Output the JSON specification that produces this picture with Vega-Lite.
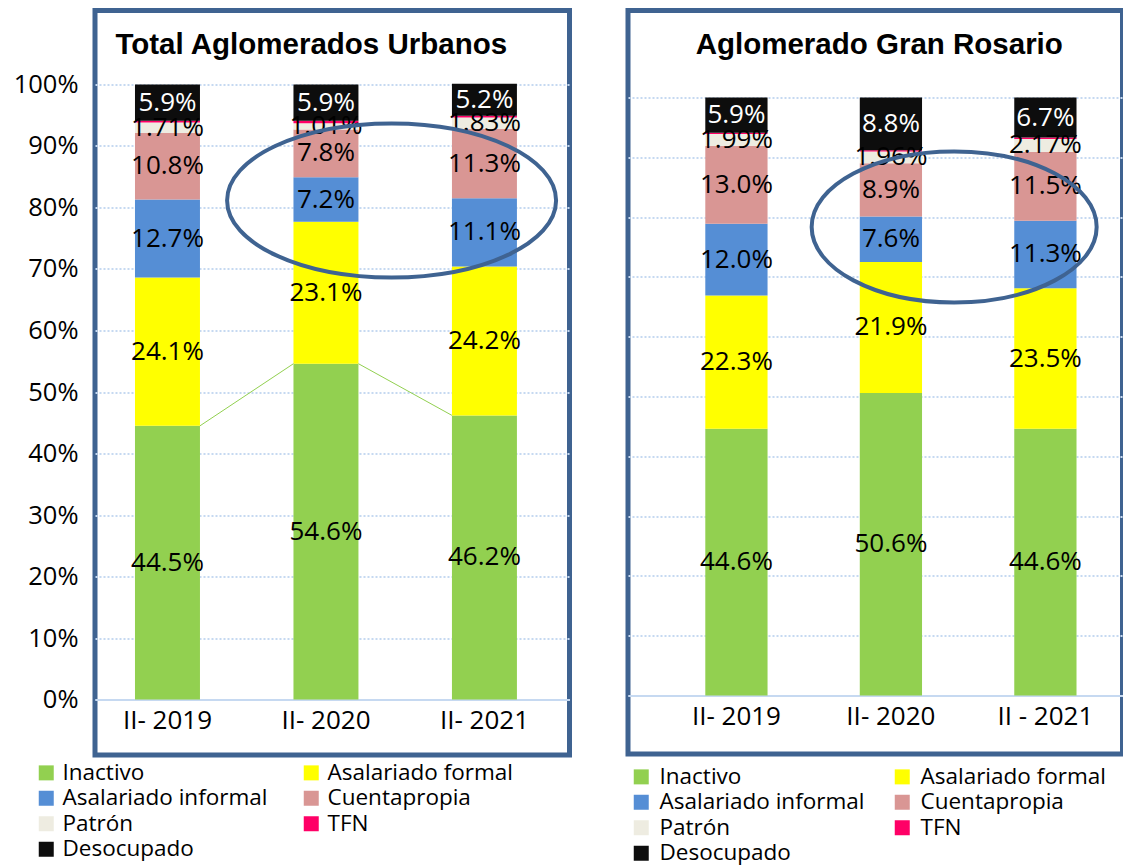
{
  "$schema": "https://vega.github.io/schema/vega-lite/v6.json",
  "padding": {"left": 10, "top": 7.5, "right": 0, "bottom": 0},
  "spacing": 53,
  "config": {
    "view": {"stroke": "#3F6391", "strokeWidth": 5},
    "font": "Open Sans",
    "axis": {"gridColor": "#C6D9F1", "gridDash": [2, 2], "gridWidth": 2, "labelColor": "#000000"}
  },
  "datasets": {
    "urbanos": [
      {"period": "II- 2019", "cat": "Inactivo", "k": 1, "value": 0.445},
      {"period": "II- 2019", "cat": "Asalariado formal", "k": 2, "value": 0.241},
      {"period": "II- 2019", "cat": "Asalariado informal", "k": 3, "value": 0.127},
      {"period": "II- 2019", "cat": "Cuentapropia", "k": 4, "value": 0.108},
      {"period": "II- 2019", "cat": "Patrón", "k": 5, "value": 0.0171},
      {"period": "II- 2019", "cat": "TFN", "k": 6, "value": 0.0029},
      {"period": "II- 2019", "cat": "Desocupado", "k": 7, "value": 0.059},
      {"period": "II- 2020", "cat": "Inactivo", "k": 1, "value": 0.546},
      {"period": "II- 2020", "cat": "Asalariado formal", "k": 2, "value": 0.231},
      {"period": "II- 2020", "cat": "Asalariado informal", "k": 3, "value": 0.072},
      {"period": "II- 2020", "cat": "Cuentapropia", "k": 4, "value": 0.078},
      {"period": "II- 2020", "cat": "Patrón", "k": 5, "value": 0.0101},
      {"period": "II- 2020", "cat": "TFN", "k": 6, "value": 0.0039},
      {"period": "II- 2020", "cat": "Desocupado", "k": 7, "value": 0.059},
      {"period": "II- 2021", "cat": "Inactivo", "k": 1, "value": 0.462},
      {"period": "II- 2021", "cat": "Asalariado formal", "k": 2, "value": 0.242},
      {"period": "II- 2021", "cat": "Asalariado informal", "k": 3, "value": 0.111},
      {"period": "II- 2021", "cat": "Cuentapropia", "k": 4, "value": 0.113},
      {"period": "II- 2021", "cat": "Patrón", "k": 5, "value": 0.0183},
      {"period": "II- 2021", "cat": "TFN", "k": 6, "value": 0.0027},
      {"period": "II- 2021", "cat": "Desocupado", "k": 7, "value": 0.052}
    ],
    "rosario": [
      {"period": "II- 2019", "cat": "Inactivo", "k": 1, "value": 0.446},
      {"period": "II- 2019", "cat": "Asalariado formal", "k": 2, "value": 0.223},
      {"period": "II- 2019", "cat": "Asalariado informal", "k": 3, "value": 0.120},
      {"period": "II- 2019", "cat": "Cuentapropia", "k": 4, "value": 0.130},
      {"period": "II- 2019", "cat": "Patrón", "k": 5, "value": 0.0199},
      {"period": "II- 2019", "cat": "TFN", "k": 6, "value": 0.0021},
      {"period": "II- 2019", "cat": "Desocupado", "k": 7, "value": 0.059},
      {"period": "II- 2020", "cat": "Inactivo", "k": 1, "value": 0.506},
      {"period": "II- 2020", "cat": "Asalariado formal", "k": 2, "value": 0.219},
      {"period": "II- 2020", "cat": "Asalariado informal", "k": 3, "value": 0.076},
      {"period": "II- 2020", "cat": "Cuentapropia", "k": 4, "value": 0.089},
      {"period": "II- 2020", "cat": "Patrón", "k": 5, "value": 0.0196},
      {"period": "II- 2020", "cat": "TFN", "k": 6, "value": 0.0024},
      {"period": "II- 2020", "cat": "Desocupado", "k": 7, "value": 0.088},
      {"period": "II - 2021", "cat": "Inactivo", "k": 1, "value": 0.446},
      {"period": "II - 2021", "cat": "Asalariado formal", "k": 2, "value": 0.235},
      {"period": "II - 2021", "cat": "Asalariado informal", "k": 3, "value": 0.113},
      {"period": "II - 2021", "cat": "Cuentapropia", "k": 4, "value": 0.115},
      {"period": "II - 2021", "cat": "Patrón", "k": 5, "value": 0.0217},
      {"period": "II - 2021", "cat": "TFN", "k": 6, "value": 0.0023},
      {"period": "II - 2021", "cat": "Desocupado", "k": 7, "value": 0.067}
    ],
    "conn": [
      {"from": "II- 2019", "to": "II- 2020", "a": 0.445, "b": 0.546},
      {"from": "II- 2020", "to": "II- 2021", "a": 0.546, "b": 0.462}
    ],
    "ellipseL": [{"anchor": "II- 2020", "level": 0.8114}],
    "ellipseR": [{"anchor": "II- 2020", "level": 0.7835}]
  },
  "hconcat": [
    {
      "width": 474.5,
      "height": 744.5,
      "title": {"text": "Total Aglomerados Urbanos", "font": "Liberation Sans", "fontSize": 29.5, "fontWeight": "bold", "color": "#000000", "anchor": "middle", "baseline": "alphabetic", "offset": -72.8, "dx": -21},
      "layer": [
        {
          "data": {"name": "urbanos"},
          "mark": {"type": "bar"},
          "encoding": {
            "x": {"field": "period", "type": "nominal", "sort": null, "title": null,
              "scale": {"domain": ["II- 2019", "II- 2020", "II- 2021"], "paddingInner": 0.59, "paddingOuter": 0.292, "align": 0.432},
              "axis": {"title": null, "orient": "bottom", "offset": -55.5, "ticks": false, "domain": true, "domainColor": "#C6D9F1", "domainWidth": 2, "labelAngle": 0, "labelFont": "Open Sans", "labelFontSize": 26, "labelPadding": 8, "grid": false}},
            "y": {"field": "value", "type": "quantitative", "stack": "zero", "title": null,
              "scale": {"domain": [-0.0902, 1.1203], "nice": false, "zero": false},
              "axis": {"title": null, "values": [0, 0.1, 0.2, 0.3, 0.4, 0.5, 0.6, 0.7, 0.8, 0.9, 1], "format": ".0%", "ticks": false, "domain": false, "labelFont": "Open Sans", "labelFontSize": 25.5, "labelPadding": 17, "grid": true}},
            "color": {"field": "cat", "type": "nominal",
              "sort": ["Inactivo", "Asalariado formal", "Asalariado informal", "Cuentapropia", "Patrón", "TFN", "Desocupado"],
              "scale": {"domain": ["Inactivo", "Asalariado formal", "Asalariado informal", "Cuentapropia", "Patrón", "TFN", "Desocupado"],
                "range": ["#92D050", "#FFFF00", "#558ED5", "#D99694", "#EEECE1", "#FF0066", "#0D0D0D"]},
              "legend": {"title": null, "orient": "none", "direction": "horizontal", "legendX": -60, "legendY": 751, "columns": 2, "columnPadding": 32, "rowPadding": 2.5, "symbolType": "square", "symbolSize": 225, "symbolStrokeWidth": 0, "labelFont": "Open Sans", "labelFontSize": 22.5, "labelOffset": 5, "labelLimit": 400, "labelColor": "#000000"}},
            "order": {"field": "k", "type": "quantitative"}
          }
        },
        {
          "data": {"name": "urbanos"},
          "mark": {"type": "text", "font": "Open Sans", "fontSize": 26, "align": "center", "baseline": "middle"},
          "encoding": {
            "x": {"field": "period", "type": "nominal", "sort": null, "title": null},
            "y": {"field": "value", "type": "quantitative", "stack": "zero", "bandPosition": 0.5, "title": null},
            "detail": {"field": "cat"},
            "order": {"field": "k", "type": "quantitative"},
            "text": {"condition": {"test": "datum.cat === 'Patrón'", "field": "value", "type": "quantitative", "format": ".2%"}, "field": "value", "type": "quantitative", "format": ".1%"},
            "color": {"condition": {"test": "datum.cat === 'Desocupado'", "value": "#FFFFFF"}, "value": "#000000"},
            "opacity": {"condition": {"test": "datum.cat === 'TFN'", "value": 0}, "value": 1}
          }
        },
        {
          "data": {"name": "conn"},
          "mark": {"type": "rule", "color": "#92D050", "strokeWidth": 1},
          "encoding": {
            "x": {"field": "from", "type": "nominal", "bandPosition": 1, "title": null},
            "x2": {"field": "to", "bandPosition": 0},
            "y": {"field": "a", "type": "quantitative", "title": null},
            "y2": {"field": "b"}
          }
        },
        {
          "data": {"name": "ellipseL"},
          "mark": {"type": "point", "shape": "M -1 0 A 1 0.468 0 1 1 1 0 A 1 0.468 0 1 1 -1 0 Z", "size": 108241, "filled": false, "color": "#3F6391", "strokeWidth": 4, "opacity": 1},
          "encoding": {
            "x": {"field": "anchor", "type": "nominal", "bandPosition": 1.51, "title": null},
            "y": {"field": "level", "type": "quantitative", "title": null}
          }
        }
      ]
    },
    {
      "width": 494.5,
      "height": 743.5,
      "title": {"text": "Aglomerado Gran Rosario", "font": "Liberation Sans", "fontSize": 29.5, "fontWeight": "bold", "color": "#000000", "anchor": "middle", "baseline": "alphabetic", "offset": -72.8, "dx": 4},
      "layer": [
        {
          "data": {"name": "rosario"},
          "mark": {"type": "bar"},
          "encoding": {
            "x": {"field": "period", "type": "nominal", "sort": null, "title": null,
              "scale": {"domain": ["II- 2019", "II- 2020", "II - 2021"], "paddingInner": 0.597, "paddingOuter": 0.399, "align": 0.627},
              "axis": {"title": null, "orient": "bottom", "offset": -58.5, "ticks": false, "domain": true, "domainColor": "#C6D9F1", "domainWidth": 2, "labelAngle": 0, "labelFont": "Open Sans", "labelFontSize": 26, "labelPadding": 8, "grid": false}},
            "y": {"field": "value", "type": "quantitative", "stack": "zero", "title": null,
              "scale": {"domain": [-0.0978, 1.1455], "nice": false, "zero": false},
              "axis": {"title": null, "values": [0, 0.1, 0.2, 0.3, 0.4, 0.5, 0.6, 0.7, 0.8, 0.9, 1], "labels": false, "ticks": false, "domain": false, "grid": true}},
            "color": {"field": "cat", "type": "nominal",
              "sort": ["Inactivo", "Asalariado formal", "Asalariado informal", "Cuentapropia", "Patrón", "TFN", "Desocupado"],
              "scale": {"domain": ["Inactivo", "Asalariado formal", "Asalariado informal", "Cuentapropia", "Patrón", "TFN", "Desocupado"],
                "range": ["#92D050", "#FFFF00", "#558ED5", "#D99694", "#EEECE1", "#FF0066", "#0D0D0D"]},
              "legend": {"title": null, "orient": "none", "direction": "horizontal", "legendX": 2, "legendY": 755, "columns": 2, "columnPadding": 26, "rowPadding": 2.5, "symbolType": "square", "symbolSize": 225, "symbolStrokeWidth": 0, "labelFont": "Open Sans", "labelFontSize": 22.5, "labelOffset": 7, "labelLimit": 400, "labelColor": "#000000"}},
            "order": {"field": "k", "type": "quantitative"}
          }
        },
        {
          "data": {"name": "rosario"},
          "mark": {"type": "text", "font": "Open Sans", "fontSize": 26, "align": "center", "baseline": "middle"},
          "encoding": {
            "x": {"field": "period", "type": "nominal", "sort": null, "title": null},
            "y": {"field": "value", "type": "quantitative", "stack": "zero", "bandPosition": 0.5, "title": null},
            "detail": {"field": "cat"},
            "order": {"field": "k", "type": "quantitative"},
            "text": {"condition": {"test": "datum.cat === 'Patrón'", "field": "value", "type": "quantitative", "format": ".2%"}, "field": "value", "type": "quantitative", "format": ".1%"},
            "color": {"condition": {"test": "datum.cat === 'Desocupado'", "value": "#FFFFFF"}, "value": "#000000"},
            "opacity": {"condition": {"test": "datum.cat === 'TFN'", "value": 0}, "value": 1}
          }
        },
        {
          "data": {"name": "ellipseR"},
          "mark": {"type": "point", "shape": "M -1 0 A 1 0.53 0 1 1 1 0 A 1 0.53 0 1 1 -1 0 Z", "size": 81225, "filled": false, "color": "#3F6391", "strokeWidth": 4, "opacity": 1},
          "encoding": {
            "x": {"field": "anchor", "type": "nominal", "bandPosition": 1.516, "title": null},
            "y": {"field": "level", "type": "quantitative", "title": null}
          }
        }
      ]
    }
  ],
  "resolve": {"scale": {"color": "independent", "x": "independent", "y": "independent"}, "legend": {"color": "independent"}}
}
